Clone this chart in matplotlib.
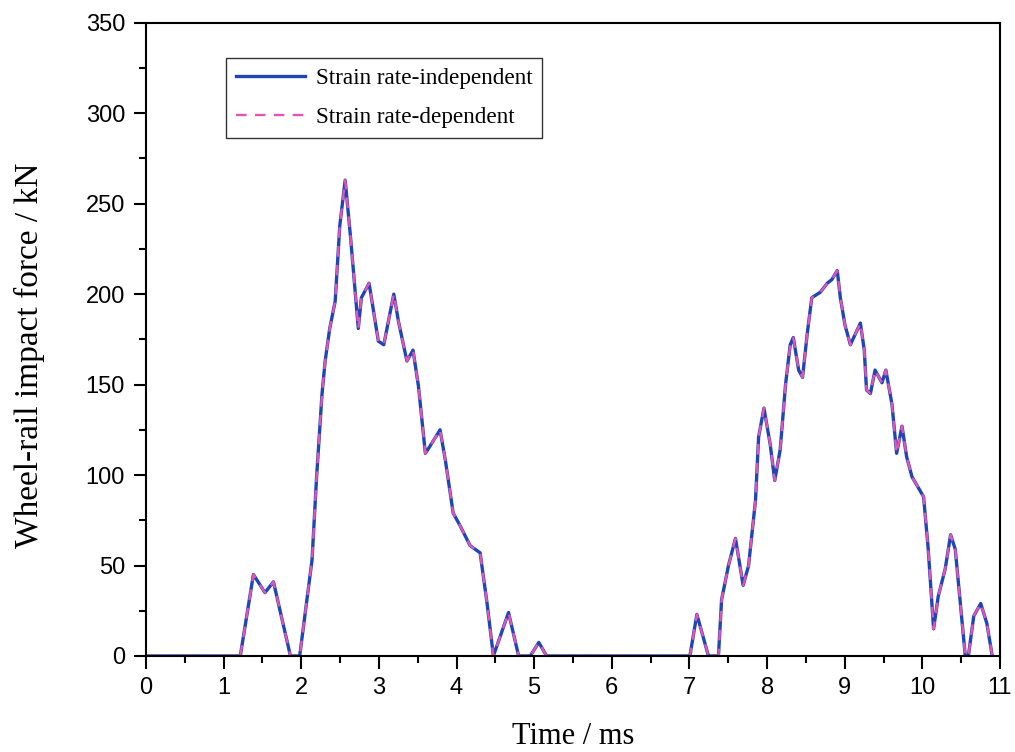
import matplotlib
matplotlib.use('Agg')
from matplotlib import pyplot as plt
from matplotlib.ticker import MultipleLocator

# time (ms) and impact force (kN)
time_ms = [0.0, 1.215, 1.384, 1.533, 1.642, 1.861, 1.98, 2.139, 2.198, 2.268,
           2.308, 2.367, 2.437, 2.497, 2.566, 2.636, 2.735, 2.775, 2.874, 2.993,
           3.063, 3.192, 3.252, 3.361, 3.44, 3.51, 3.599, 3.659, 3.788, 3.857,
           3.957, 4.046, 4.175, 4.304, 4.394, 4.475, 4.67, 4.80, 4.95, 5.06,
           5.16, 7.006, 7.096, 7.245, 7.374, 7.414, 7.503, 7.593, 7.692, 7.762,
           7.851, 7.891, 7.96, 8.04, 8.099, 8.169, 8.238, 8.298, 8.338, 8.407,
           8.457, 8.517, 8.576, 8.685, 8.775, 8.834, 8.904, 8.944, 9.003, 9.073,
           9.202, 9.252, 9.281, 9.331, 9.391, 9.48, 9.53, 9.609, 9.669, 9.738,
           9.798, 9.867, 10.016, 10.076, 10.145, 10.205, 10.294, 10.364, 10.424, 10.553,
           10.593, 10.662, 10.752, 10.831, 10.9]
force_independent = [0, 0, 45, 35, 41, 0, 0, 53, 99, 145,
                     163, 181, 196, 238, 263, 231, 181, 198, 206, 174,
                     172, 200, 185, 163, 169, 149, 112, 116, 125, 108,
                     79, 72, 61, 57, 29, 0, 24, 0, 0, 7.5,
                     0, 0, 23, 0, 0, 31, 50, 65, 39, 50,
                     86, 121, 137, 117, 97, 114, 150, 172, 176, 158,
                     154, 178, 198, 201, 206, 208, 213, 198, 183, 172,
                     184, 169, 147, 145, 158, 151, 158, 139, 112, 127,
                     110, 99, 88, 59, 15, 33, 48, 67, 59, 0,
                     0, 22, 29, 18, 0]
# the two models give practically the same curve
force_dependent = list(force_independent)

SERIF = ['Liberation Serif', 'DejaVu Serif']
SANS = ['Liberation Sans', 'DejaVu Sans']


def main():
    fig = plt.figure(figsize=(10.15, 7.52), dpi=100)
    ax = fig.add_axes([0.1438, 0.1277, 0.8414, 0.8421])

    ax.plot(time_ms, force_independent, color='#1f45b8', lw=2.4, label='Strain rate-independent')
    ax.plot(time_ms, force_dependent, color='#e055b5', lw=1.7, ls=(0, (4.5, 3.5)),
            label='Strain rate-dependent')

    ax.set_xlim(0, 11)
    ax.set_ylim(0, 350)
    ax.xaxis.set_major_locator(MultipleLocator(1))
    ax.xaxis.set_minor_locator(MultipleLocator(0.5))
    ax.yaxis.set_major_locator(MultipleLocator(50))
    ax.yaxis.set_minor_locator(MultipleLocator(25))
    ax.tick_params(which='both', direction='out', width=1.5, top=False, right=False)
    ax.tick_params(which='major', length=9, pad=6, labelsize=17)
    ax.tick_params(which='minor', length=5)
    for lab in ax.get_xticklabels() + ax.get_yticklabels():
        lab.set_family(SANS)
    for spine in ax.spines.values():
        spine.set_linewidth(1.5)

    ax.set_xlabel('Time / ms', family=SERIF, fontsize=22, labelpad=17)
    ax.set_ylabel('Wheel-rail impact force / kN', family=SERIF, fontsize=24)
    ax.yaxis.set_label_coords(-0.118, 0.475)

    leg = ax.legend(loc='upper left', bbox_to_anchor=(0.094, 0.944), borderaxespad=0,
                    prop={'family': SERIF, 'size': 16.7}, frameon=True, fancybox=False,
                    edgecolor='black', handlelength=3, handletextpad=0.45,
                    labelspacing=0.8, borderpad=0.4)
    leg.get_frame().set_linewidth(1.0)

    fig.savefig('out.png', dpi=100)
    plt.close(fig)


if __name__ == '__main__':
    main()
